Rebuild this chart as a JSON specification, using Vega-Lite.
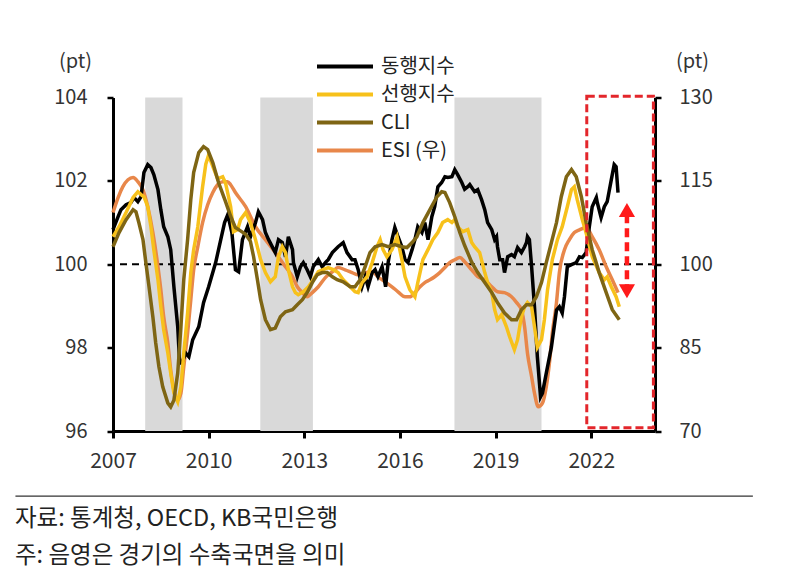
{
"$schema": "https://vega.github.io/schema/vega-lite/v6.json",
"width": 542, "height": 333.5,
"autosize": {"type": "none"},
"padding": {"left": 113, "top": 97.5, "right": 139, "bottom": 153},
"background": "white",
"config": {"view": {"stroke": null}, "font": "Noto Sans CJK KR",
 "axisX": {"labelFontSize": 21, "labelColor": "#333333", "labelPadding": 12, "labelFlush": false, "tickSize": 7, "tickWidth": 3, "tickColor": "#000000", "domainColor": "#000000", "domainWidth": 3, "grid": false}},
"title": {"text": ["자료: 통계청, OECD, KB국민은행", "주: 음영은 경기의 수축국면을 의미"], "orient": "bottom", "anchor": "start", "frame": "group", "fontSize": 23.5, "fontWeight": "normal", "lineHeight": 37, "color": "#222222", "dx": -98, "offset": 10, "font": "Noto Sans CJK KR"},
"datasets": {
"rec": [{"a": 2008.01, "b": 2009.18}, {"a": 2011.62, "b": 2013.27}, {"a": 2017.71, "b": 2020.44}],
"d": [
{"s":"동행지수","t":2007.0,"v":100.83},{"s":"동행지수","t":2007.16,"v":101.14},{"s":"동행지수","t":2007.25,"v":101.31},{"s":"동행지수","t":2007.41,"v":101.43},{"s":"동행지수","t":2007.56,"v":101.48},{"s":"동행지수","t":2007.66,"v":101.6},{"s":"동행지수","t":2007.78,"v":101.5},{"s":"동행지수","t":2007.88,"v":101.62},{"s":"동행지수","t":2007.97,"v":102.2},{"s":"동행지수","t":2008.09,"v":102.39},{"s":"동행지수","t":2008.19,"v":102.32},{"s":"동행지수","t":2008.28,"v":102.15},{"s":"동행지수","t":2008.41,"v":101.79},{"s":"동행지수","t":2008.5,"v":101.31},{"s":"동행지수","t":2008.59,"v":100.9},{"s":"동행지수","t":2008.72,"v":100.66},{"s":"동행지수","t":2008.81,"v":100.35},{"s":"동행지수","t":2008.91,"v":99.46},{"s":"동행지수","t":2009.03,"v":98.5},{"s":"동행지수","t":2009.09,"v":97.63},{"s":"동행지수","t":2009.16,"v":97.63},{"s":"동행지수","t":2009.28,"v":97.87},{"s":"동행지수","t":2009.38,"v":97.78},{"s":"동행지수","t":2009.5,"v":98.19},{"s":"동행지수","t":2009.69,"v":98.5},{"s":"동행지수","t":2009.84,"v":99.08},{"s":"동행지수","t":2010.0,"v":99.46},{"s":"동행지수","t":2010.22,"v":100.04},{"s":"동행지수","t":2010.38,"v":100.59},{"s":"동행지수","t":2010.5,"v":101.0},{"s":"동행지수","t":2010.6,"v":101.19},{"s":"동행지수","t":2010.73,"v":100.75},{"s":"동행지수","t":2010.84,"v":99.87},{"s":"동행지수","t":2010.94,"v":99.82},{"s":"동행지수","t":2011.06,"v":100.59},{"s":"동행지수","t":2011.22,"v":100.9},{"s":"동행지수","t":2011.31,"v":100.66},{"s":"동행지수","t":2011.47,"v":101.0},{"s":"동행지수","t":2011.56,"v":101.26},{"s":"동행지수","t":2011.69,"v":101.07},{"s":"동행지수","t":2011.78,"v":100.76},{"s":"동행지수","t":2011.88,"v":100.59},{"s":"동행지수","t":2012.09,"v":100.28},{"s":"동행지수","t":2012.19,"v":100.59},{"s":"동행지수","t":2012.31,"v":100.52},{"s":"동행지수","t":2012.41,"v":100.18},{"s":"동행지수","t":2012.5,"v":100.66},{"s":"동행지수","t":2012.63,"v":100.35},{"s":"동행지수","t":2012.66,"v":100.04},{"s":"동행지수","t":2012.78,"v":99.7},{"s":"동행지수","t":2012.88,"v":99.94},{"s":"동행지수","t":2012.97,"v":100.04},{"s":"동행지수","t":2013.09,"v":99.87},{"s":"동행지수","t":2013.19,"v":99.7},{"s":"동행지수","t":2013.28,"v":99.94},{"s":"동행지수","t":2013.44,"v":100.11},{"s":"동행지수","t":2013.56,"v":99.94},{"s":"동행지수","t":2013.66,"v":100.04},{"s":"동행지수","t":2013.75,"v":100.11},{"s":"동행지수","t":2013.88,"v":100.28},{"s":"동행지수","t":2014.06,"v":100.42},{"s":"동행지수","t":2014.22,"v":100.52},{"s":"동행지수","t":2014.34,"v":100.28},{"s":"동행지수","t":2014.5,"v":100.11},{"s":"동행지수","t":2014.59,"v":100.11},{"s":"동행지수","t":2014.69,"v":99.87},{"s":"동행지수","t":2014.81,"v":99.46},{"s":"동행지수","t":2014.91,"v":99.7},{"s":"동행지수","t":2015.0,"v":99.46},{"s":"동행지수","t":2015.13,"v":99.8},{"s":"동행지수","t":2015.22,"v":99.87},{"s":"동행지수","t":2015.31,"v":99.7},{"s":"동행지수","t":2015.44,"v":99.94},{"s":"동행지수","t":2015.55,"v":99.46},{"s":"동행지수","t":2015.63,"v":100.04},{"s":"동행지수","t":2015.75,"v":100.59},{"s":"동행지수","t":2015.84,"v":100.88},{"s":"동행지수","t":2015.94,"v":100.66},{"s":"동행지수","t":2016.06,"v":100.42},{"s":"동행지수","t":2016.16,"v":100.11},{"s":"동행지수","t":2016.25,"v":100.04},{"s":"동행지수","t":2016.38,"v":100.35},{"s":"동행지수","t":2016.47,"v":100.59},{"s":"동행지수","t":2016.56,"v":100.9},{"s":"동행지수","t":2016.69,"v":100.76},{"s":"동행지수","t":2016.78,"v":101.0},{"s":"동행지수","t":2016.88,"v":100.59},{"s":"동행지수","t":2017.0,"v":101.14},{"s":"동행지수","t":2017.09,"v":101.38},{"s":"동행지수","t":2017.19,"v":101.86},{"s":"동행지수","t":2017.31,"v":101.96},{"s":"동행지수","t":2017.41,"v":102.1},{"s":"동행지수","t":2017.5,"v":102.08},{"s":"동행지수","t":2017.63,"v":102.1},{"s":"동행지수","t":2017.72,"v":102.27},{"s":"동행지수","t":2017.81,"v":102.15},{"s":"동행지수","t":2017.94,"v":101.96},{"s":"동행지수","t":2018.03,"v":101.8},{"s":"동행지수","t":2018.13,"v":101.86},{"s":"동행지수","t":2018.19,"v":101.91},{"s":"동행지수","t":2018.34,"v":101.74},{"s":"동행지수","t":2018.44,"v":101.79},{"s":"동행지수","t":2018.56,"v":101.55},{"s":"동행지수","t":2018.66,"v":101.31},{"s":"동행지수","t":2018.75,"v":101.0},{"s":"동행지수","t":2018.88,"v":100.83},{"s":"동행지수","t":2018.97,"v":100.59},{"s":"동행지수","t":2019.03,"v":100.66},{"s":"동행지수","t":2019.06,"v":100.42},{"s":"동행지수","t":2019.13,"v":100.11},{"s":"동행지수","t":2019.22,"v":100.11},{"s":"동행지수","t":2019.28,"v":99.8},{"s":"동행지수","t":2019.38,"v":100.18},{"s":"동행지수","t":2019.5,"v":100.23},{"s":"동행지수","t":2019.59,"v":100.18},{"s":"동행지수","t":2019.69,"v":100.4},{"s":"동행지수","t":2019.81,"v":100.28},{"s":"동행지수","t":2019.91,"v":100.42},{"s":"동행지수","t":2019.97,"v":100.52},{"s":"동행지수","t":2020.0,"v":100.66},{"s":"동행지수","t":2020.06,"v":100.59},{"s":"동행지수","t":2020.13,"v":99.94},{"s":"동행지수","t":2020.22,"v":98.98},{"s":"동행지수","t":2020.31,"v":97.78},{"s":"동행지수","t":2020.41,"v":96.82},{"s":"동행지수","t":2020.47,"v":96.91},{"s":"동행지수","t":2020.59,"v":97.39},{"s":"동행지수","t":2020.75,"v":98.01},{"s":"동행지수","t":2020.91,"v":98.9},{"s":"동행지수","t":2021.0,"v":98.98},{"s":"동행지수","t":2021.09,"v":98.83},{"s":"동행지수","t":2021.16,"v":99.22},{"s":"동행지수","t":2021.25,"v":99.94},{"s":"동행지수","t":2021.38,"v":99.99},{"s":"동행지수","t":2021.53,"v":100.04},{"s":"동행지수","t":2021.63,"v":100.18},{"s":"동행지수","t":2021.72,"v":100.16},{"s":"동행지수","t":2021.84,"v":100.28},{"s":"동행지수","t":2021.94,"v":100.9},{"s":"동행지수","t":2022.03,"v":101.38},{"s":"동행지수","t":2022.16,"v":101.6},{"s":"동행지수","t":2022.19,"v":101.48},{"s":"동행지수","t":2022.31,"v":101.12},{"s":"동행지수","t":2022.41,"v":101.38},{"s":"동행지수","t":2022.5,"v":101.5},{"s":"동행지수","t":2022.63,"v":102.03},{"s":"동행지수","t":2022.72,"v":102.39},{"s":"동행지수","t":2022.78,"v":102.34},{"s":"동행지수","t":2022.84,"v":101.72},
{"s":"선행지수","t":2007.0,"v":100.66},{"s":"선행지수","t":2007.19,"v":100.9},{"s":"선행지수","t":2007.41,"v":101.24},{"s":"선행지수","t":2007.63,"v":101.6},{"s":"선행지수","t":2007.78,"v":101.74},{"s":"선행지수","t":2007.88,"v":101.67},{"s":"선행지수","t":2007.97,"v":101.62},{"s":"선행지수","t":2008.09,"v":101.38},{"s":"선행지수","t":2008.19,"v":100.9},{"s":"선행지수","t":2008.28,"v":100.35},{"s":"선행지수","t":2008.41,"v":99.63},{"s":"선행지수","t":2008.5,"v":98.98},{"s":"선행지수","t":2008.59,"v":98.43},{"s":"선행지수","t":2008.72,"v":97.87},{"s":"선행지수","t":2008.81,"v":97.39},{"s":"선행지수","t":2008.91,"v":96.91},{"s":"선행지수","t":2009.03,"v":96.7},{"s":"선행지수","t":2009.13,"v":97.06},{"s":"선행지수","t":2009.22,"v":97.87},{"s":"선행지수","t":2009.34,"v":98.83},{"s":"선행지수","t":2009.44,"v":99.8},{"s":"선행지수","t":2009.53,"v":100.35},{"s":"선행지수","t":2009.66,"v":100.9},{"s":"선행지수","t":2009.81,"v":101.86},{"s":"선행지수","t":2009.91,"v":102.4},{"s":"선행지수","t":2010.0,"v":102.62},{"s":"선행지수","t":2010.13,"v":102.35},{"s":"선행지수","t":2010.28,"v":102.05},{"s":"선행지수","t":2010.44,"v":102.1},{"s":"선행지수","t":2010.53,"v":101.95},{"s":"선행지수","t":2010.69,"v":101.38},{"s":"선행지수","t":2010.78,"v":100.78},{"s":"선행지수","t":2010.91,"v":100.83},{"s":"선행지수","t":2011.0,"v":101.07},{"s":"선행지수","t":2011.16,"v":101.24},{"s":"선행지수","t":2011.31,"v":101.0},{"s":"선행지수","t":2011.47,"v":100.59},{"s":"선행지수","t":2011.63,"v":100.11},{"s":"선행지수","t":2011.78,"v":99.8},{"s":"선행지수","t":2011.94,"v":99.58},{"s":"선행지수","t":2012.09,"v":99.7},{"s":"선행지수","t":2012.19,"v":100.18},{"s":"선행지수","t":2012.31,"v":100.42},{"s":"선행지수","t":2012.41,"v":100.28},{"s":"선행지수","t":2012.5,"v":99.87},{"s":"선행지수","t":2012.63,"v":99.46},{"s":"선행지수","t":2012.72,"v":99.32},{"s":"선행지수","t":2012.81,"v":99.27},{"s":"선행지수","t":2012.97,"v":99.34},{"s":"선행지수","t":2013.13,"v":99.46},{"s":"선행지수","t":2013.28,"v":99.63},{"s":"선행지수","t":2013.44,"v":99.82},{"s":"선행지수","t":2013.59,"v":99.87},{"s":"선행지수","t":2013.75,"v":99.92},{"s":"선행지수","t":2013.91,"v":99.87},{"s":"선행지수","t":2014.06,"v":99.8},{"s":"선행지수","t":2014.22,"v":99.63},{"s":"선행지수","t":2014.44,"v":99.46},{"s":"선행지수","t":2014.59,"v":99.34},{"s":"선행지수","t":2014.69,"v":99.32},{"s":"선행지수","t":2014.81,"v":99.56},{"s":"선행지수","t":2014.97,"v":99.7},{"s":"선행지수","t":2015.13,"v":100.04},{"s":"선행지수","t":2015.28,"v":100.42},{"s":"선행지수","t":2015.38,"v":100.59},{"s":"선행지수","t":2015.47,"v":100.35},{"s":"선행지수","t":2015.59,"v":100.18},{"s":"선행지수","t":2015.75,"v":100.35},{"s":"선행지수","t":2015.91,"v":100.66},{"s":"선행지수","t":2016.06,"v":100.11},{"s":"선행지수","t":2016.16,"v":99.7},{"s":"선행지수","t":2016.31,"v":99.39},{"s":"선행지수","t":2016.47,"v":99.22},{"s":"선행지수","t":2016.56,"v":99.56},{"s":"선행지수","t":2016.72,"v":100.11},{"s":"선행지수","t":2016.88,"v":100.35},{"s":"선행지수","t":2017.03,"v":100.59},{"s":"선행지수","t":2017.19,"v":100.76},{"s":"선행지수","t":2017.34,"v":101.0},{"s":"선행지수","t":2017.5,"v":101.07},{"s":"선행지수","t":2017.63,"v":101.0},{"s":"선행지수","t":2017.72,"v":101.07},{"s":"선행지수","t":2017.81,"v":100.9},{"s":"선행지수","t":2017.97,"v":100.78},{"s":"선행지수","t":2018.13,"v":100.83},{"s":"선행지수","t":2018.25,"v":100.52},{"s":"선행지수","t":2018.34,"v":100.42},{"s":"선행지수","t":2018.5,"v":100.28},{"s":"선행지수","t":2018.66,"v":99.8},{"s":"선행지수","t":2018.75,"v":99.56},{"s":"선행지수","t":2018.88,"v":99.32},{"s":"선행지수","t":2018.97,"v":98.91},{"s":"선행지수","t":2019.06,"v":98.67},{"s":"선행지수","t":2019.19,"v":98.79},{"s":"선행지수","t":2019.34,"v":98.5},{"s":"선행지수","t":2019.44,"v":98.26},{"s":"선행지수","t":2019.59,"v":97.95},{"s":"선행지수","t":2019.69,"v":98.19},{"s":"선행지수","t":2019.81,"v":98.74},{"s":"선행지수","t":2019.91,"v":98.98},{"s":"선행지수","t":2020.0,"v":99.08},{"s":"선행지수","t":2020.13,"v":98.98},{"s":"선행지수","t":2020.22,"v":98.5},{"s":"선행지수","t":2020.31,"v":98.01},{"s":"선행지수","t":2020.44,"v":98.19},{"s":"선행지수","t":2020.53,"v":98.67},{"s":"선행지수","t":2020.63,"v":99.39},{"s":"선행지수","t":2020.78,"v":100.11},{"s":"선행지수","t":2020.94,"v":100.59},{"s":"선행지수","t":2021.09,"v":100.9},{"s":"선행지수","t":2021.25,"v":101.38},{"s":"선행지수","t":2021.38,"v":101.79},{"s":"선행지수","t":2021.47,"v":101.86},{"s":"선행지수","t":2021.56,"v":101.55},{"s":"선행지수","t":2021.72,"v":101.07},{"s":"선행지수","t":2021.84,"v":100.75},{"s":"선행지수","t":2022.03,"v":100.18},{"s":"선행지수","t":2022.25,"v":99.8},{"s":"선행지수","t":2022.41,"v":99.63},{"s":"선행지수","t":2022.5,"v":99.7},{"s":"선행지수","t":2022.63,"v":99.46},{"s":"선행지수","t":2022.78,"v":99.22},{"s":"선행지수","t":2022.88,"v":98.98},
{"s":"CLI","t":2007.0,"v":100.42},{"s":"CLI","t":2007.19,"v":100.76},{"s":"CLI","t":2007.41,"v":101.07},{"s":"CLI","t":2007.63,"v":101.31},{"s":"CLI","t":2007.72,"v":101.26},{"s":"CLI","t":2007.81,"v":101.0},{"s":"CLI","t":2007.94,"v":100.59},{"s":"CLI","t":2008.03,"v":100.04},{"s":"CLI","t":2008.13,"v":99.46},{"s":"CLI","t":2008.25,"v":98.74},{"s":"CLI","t":2008.34,"v":98.11},{"s":"CLI","t":2008.44,"v":97.54},{"s":"CLI","t":2008.56,"v":97.06},{"s":"CLI","t":2008.72,"v":96.67},{"s":"CLI","t":2008.81,"v":96.58},{"s":"CLI","t":2008.91,"v":96.74},{"s":"CLI","t":2009.03,"v":97.39},{"s":"CLI","t":2009.13,"v":98.5},{"s":"CLI","t":2009.22,"v":99.63},{"s":"CLI","t":2009.34,"v":100.59},{"s":"CLI","t":2009.44,"v":101.55},{"s":"CLI","t":2009.53,"v":102.2},{"s":"CLI","t":2009.69,"v":102.68},{"s":"CLI","t":2009.84,"v":102.82},{"s":"CLI","t":2009.97,"v":102.75},{"s":"CLI","t":2010.13,"v":102.44},{"s":"CLI","t":2010.31,"v":101.96},{"s":"CLI","t":2010.53,"v":101.5},{"s":"CLI","t":2010.69,"v":101.15},{"s":"CLI","t":2010.84,"v":100.88},{"s":"CLI","t":2011.0,"v":100.8},{"s":"CLI","t":2011.16,"v":100.72},{"s":"CLI","t":2011.31,"v":100.55},{"s":"CLI","t":2011.41,"v":100.18},{"s":"CLI","t":2011.53,"v":99.63},{"s":"CLI","t":2011.63,"v":99.15},{"s":"CLI","t":2011.78,"v":98.67},{"s":"CLI","t":2011.94,"v":98.43},{"s":"CLI","t":2012.09,"v":98.47},{"s":"CLI","t":2012.25,"v":98.74},{"s":"CLI","t":2012.41,"v":98.86},{"s":"CLI","t":2012.63,"v":98.91},{"s":"CLI","t":2012.78,"v":99.03},{"s":"CLI","t":2012.94,"v":99.15},{"s":"CLI","t":2013.09,"v":99.32},{"s":"CLI","t":2013.25,"v":99.56},{"s":"CLI","t":2013.41,"v":99.75},{"s":"CLI","t":2013.56,"v":99.8},{"s":"CLI","t":2013.72,"v":99.8},{"s":"CLI","t":2013.88,"v":99.7},{"s":"CLI","t":2014.03,"v":99.63},{"s":"CLI","t":2014.22,"v":99.58},{"s":"CLI","t":2014.44,"v":99.46},{"s":"CLI","t":2014.59,"v":99.46},{"s":"CLI","t":2014.75,"v":99.63},{"s":"CLI","t":2014.91,"v":99.94},{"s":"CLI","t":2015.06,"v":100.28},{"s":"CLI","t":2015.22,"v":100.42},{"s":"CLI","t":2015.44,"v":100.47},{"s":"CLI","t":2015.63,"v":100.42},{"s":"CLI","t":2015.84,"v":100.47},{"s":"CLI","t":2016.06,"v":100.42},{"s":"CLI","t":2016.22,"v":100.4},{"s":"CLI","t":2016.38,"v":100.52},{"s":"CLI","t":2016.53,"v":100.66},{"s":"CLI","t":2016.72,"v":101.0},{"s":"CLI","t":2016.94,"v":101.31},{"s":"CLI","t":2017.16,"v":101.62},{"s":"CLI","t":2017.31,"v":101.74},{"s":"CLI","t":2017.41,"v":101.72},{"s":"CLI","t":2017.56,"v":101.48},{"s":"CLI","t":2017.72,"v":101.14},{"s":"CLI","t":2017.88,"v":100.76},{"s":"CLI","t":2018.03,"v":100.45},{"s":"CLI","t":2018.25,"v":100.05},{"s":"CLI","t":2018.44,"v":99.8},{"s":"CLI","t":2018.66,"v":99.56},{"s":"CLI","t":2018.88,"v":99.32},{"s":"CLI","t":2019.06,"v":99.08},{"s":"CLI","t":2019.28,"v":98.83},{"s":"CLI","t":2019.5,"v":98.67},{"s":"CLI","t":2019.66,"v":98.67},{"s":"CLI","t":2019.81,"v":98.91},{"s":"CLI","t":2019.97,"v":99.03},{"s":"CLI","t":2020.13,"v":99.03},{"s":"CLI","t":2020.28,"v":99.22},{"s":"CLI","t":2020.44,"v":99.56},{"s":"CLI","t":2020.59,"v":100.04},{"s":"CLI","t":2020.75,"v":100.52},{"s":"CLI","t":2020.91,"v":101.0},{"s":"CLI","t":2021.06,"v":101.62},{"s":"CLI","t":2021.22,"v":102.1},{"s":"CLI","t":2021.38,"v":102.27},{"s":"CLI","t":2021.53,"v":102.1},{"s":"CLI","t":2021.69,"v":101.62},{"s":"CLI","t":2021.84,"v":101.0},{"s":"CLI","t":2022.03,"v":100.35},{"s":"CLI","t":2022.25,"v":99.8},{"s":"CLI","t":2022.47,"v":99.32},{"s":"CLI","t":2022.66,"v":98.91},{"s":"CLI","t":2022.88,"v":98.67},
{"s":"ESI (우)","t":2007.0,"v":109.3},{"s":"ESI (우)","t":2007.16,"v":112.0},{"s":"ESI (우)","t":2007.31,"v":113.95},{"s":"ESI (우)","t":2007.47,"v":115.2},{"s":"ESI (우)","t":2007.63,"v":115.6},{"s":"ESI (우)","t":2007.78,"v":114.85},{"s":"ESI (우)","t":2007.94,"v":113.4},{"s":"ESI (우)","t":2008.09,"v":110.35},{"s":"ESI (우)","t":2008.25,"v":105.7},{"s":"ESI (우)","t":2008.41,"v":99.55},{"s":"ESI (우)","t":2008.5,"v":95.4},{"s":"ESI (우)","t":2008.59,"v":90.55},{"s":"ESI (우)","t":2008.72,"v":85.8},{"s":"ESI (우)","t":2008.81,"v":81.0},{"s":"ESI (우)","t":2008.91,"v":77.4},{"s":"ESI (우)","t":2009.03,"v":75.55},{"s":"ESI (우)","t":2009.13,"v":76.8},{"s":"ESI (우)","t":2009.22,"v":81.55},{"s":"ESI (우)","t":2009.34,"v":87.6},{"s":"ESI (우)","t":2009.44,"v":93.6},{"s":"ESI (우)","t":2009.53,"v":99.0},{"s":"ESI (우)","t":2009.66,"v":103.15},{"s":"ESI (우)","t":2009.81,"v":107.5},{"s":"ESI (우)","t":2009.97,"v":110.7},{"s":"ESI (우)","t":2010.13,"v":112.9},{"s":"ESI (우)","t":2010.28,"v":114.3},{"s":"ESI (우)","t":2010.44,"v":114.85},{"s":"ESI (우)","t":2010.59,"v":114.85},{"s":"ESI (우)","t":2010.69,"v":114.3},{"s":"ESI (우)","t":2010.84,"v":112.9},{"s":"ESI (우)","t":2011.16,"v":110.35},{"s":"ESI (우)","t":2011.47,"v":106.75},{"s":"ESI (우)","t":2011.78,"v":104.4},{"s":"ESI (우)","t":2012.09,"v":102.1},{"s":"ESI (우)","t":2012.41,"v":99.55},{"s":"ESI (우)","t":2012.63,"v":97.75},{"s":"ESI (우)","t":2012.78,"v":95.95},{"s":"ESI (우)","t":2012.94,"v":94.9},{"s":"ESI (우)","t":2013.09,"v":94.15},{"s":"ESI (우)","t":2013.25,"v":94.9},{"s":"ESI (우)","t":2013.44,"v":95.95},{"s":"ESI (우)","t":2013.66,"v":97.6},{"s":"ESI (우)","t":2013.88,"v":98.65},{"s":"ESI (우)","t":2014.06,"v":99.4},{"s":"ESI (우)","t":2014.28,"v":99.0},{"s":"ESI (우)","t":2014.5,"v":98.5},{"s":"ESI (우)","t":2014.69,"v":98.1},{"s":"ESI (우)","t":2014.91,"v":98.5},{"s":"ESI (우)","t":2015.13,"v":98.65},{"s":"ESI (우)","t":2015.31,"v":97.75},{"s":"ESI (우)","t":2015.53,"v":96.85},{"s":"ESI (우)","t":2015.75,"v":95.95},{"s":"ESI (우)","t":2015.94,"v":95.05},{"s":"ESI (우)","t":2016.16,"v":94.15},{"s":"ESI (우)","t":2016.31,"v":94.15},{"s":"ESI (우)","t":2016.47,"v":94.9},{"s":"ESI (우)","t":2016.63,"v":95.95},{"s":"ESI (우)","t":2016.78,"v":96.7},{"s":"ESI (우)","t":2016.94,"v":97.2},{"s":"ESI (우)","t":2017.09,"v":97.75},{"s":"ESI (우)","t":2017.25,"v":98.5},{"s":"ESI (우)","t":2017.41,"v":99.4},{"s":"ESI (우)","t":2017.56,"v":100.3},{"s":"ESI (우)","t":2017.72,"v":100.8},{"s":"ESI (우)","t":2017.88,"v":101.2},{"s":"ESI (우)","t":2018.03,"v":100.45},{"s":"ESI (우)","t":2018.25,"v":99.0},{"s":"ESI (우)","t":2018.44,"v":97.75},{"s":"ESI (우)","t":2018.66,"v":97.2},{"s":"ESI (우)","t":2018.88,"v":95.95},{"s":"ESI (우)","t":2019.06,"v":95.05},{"s":"ESI (우)","t":2019.28,"v":94.9},{"s":"ESI (우)","t":2019.5,"v":94.15},{"s":"ESI (우)","t":2019.66,"v":93.1},{"s":"ESI (우)","t":2019.81,"v":91.8},{"s":"ESI (우)","t":2019.91,"v":88.75},{"s":"ESI (우)","t":2020.0,"v":84.0},{"s":"ESI (우)","t":2020.13,"v":79.75},{"s":"ESI (우)","t":2020.22,"v":76.8},{"s":"ESI (우)","t":2020.34,"v":74.35},{"s":"ESI (우)","t":2020.47,"v":75.0},{"s":"ESI (우)","t":2020.59,"v":77.95},{"s":"ESI (우)","t":2020.69,"v":82.3},{"s":"ESI (우)","t":2020.78,"v":87.6},{"s":"ESI (우)","t":2020.91,"v":93.1},{"s":"ESI (우)","t":2021.0,"v":98.5},{"s":"ESI (우)","t":2021.16,"v":102.6},{"s":"ESI (우)","t":2021.31,"v":104.4},{"s":"ESI (우)","t":2021.47,"v":105.7},{"s":"ESI (우)","t":2021.63,"v":106.2},{"s":"ESI (우)","t":2021.84,"v":106.6},{"s":"ESI (우)","t":2022.03,"v":104.95},{"s":"ESI (우)","t":2022.25,"v":102.6},{"s":"ESI (우)","t":2022.47,"v":99.55},{"s":"ESI (우)","t":2022.66,"v":97.2},{"s":"ESI (우)","t":2022.84,"v":94.9}
]},
"resolve": {"scale": {"y": "independent"}},
"layer": [
{"data": {"name": "rec"}, "mark": {"type": "rect", "color": "#D9D9D9"},
 "encoding": {"x": {"field": "a", "type": "quantitative", "scale": {"domain": [2007, 2024], "nice": false, "zero": false}, "axis": {"values": [2007, 2010, 2013, 2016, 2019, 2022], "format": "d", "title": null}}, "x2": {"field": "b"}}},
{"data": {"values": [{}]}, "mark": {"type": "rule", "strokeDash": [7, 5], "strokeWidth": 2, "color": "#000000"},
 "encoding": {"y": {"datum": 100, "type": "quantitative", "scale": {"domain": [96, 104], "nice": false, "zero": false}, "axis": null}}},
{"data": {"name": "d"}, "transform": [{"filter": "datum.s === 'ESI (우)'"}],
 "mark": {"type": "line", "strokeWidth": 3.5, "interpolate": "monotone"},
 "encoding": {
  "x": {"field": "t", "type": "quantitative", "scale": {"domain": [2007, 2024], "nice": false, "zero": false}, "axis": {"values": [2007, 2010, 2013, 2016, 2019, 2022], "format": "d", "title": null}},
  "y": {"field": "v", "type": "quantitative", "scale": {"domain": [70, 130], "nice": false, "zero": false},
        "axis": {"orient": "right", "values": [70, 85, 100, 115, 130], "title": "(pt)", "titleAngle": 0, "titleX": 37, "titleY": -36, "titleAlign": "center", "titleBaseline": "middle", "titleFontSize": 20, "titleFontWeight": "normal", "titleColor": "#333333", "labelFontSize": 20, "labelColor": "#333333", "labelPadding": 18, "tickSize": 6, "tickWidth": 2.5, "tickColor": "#000000", "domainColor": "#000000", "domainWidth": 3, "grid": false}},
  "color": {"field": "s", "type": "nominal", "scale": {"domain": ["동행지수", "선행지수", "CLI", "ESI (우)"], "range": ["#000000", "#F7C11B", "#7E6514", "#E8874A"]},
        "legend": {"orient": "none", "legendX": 220, "legendY": -43, "direction": "vertical", "title": null, "symbolType": "M-2.8,0H2.8", "symbolStrokeWidth": 4, "symbolSize": 400, "labelFontSize": 20, "labelColor": "#222222", "rowPadding": 6, "labelOffset": 24, "padding": 0}}}},
{"data": {"name": "d"}, "transform": [{"filter": "datum.s !== 'ESI (우)'"}],
 "mark": {"type": "line", "strokeWidth": 3.5},
 "encoding": {
  "x": {"field": "t", "type": "quantitative", "scale": {"domain": [2007, 2024], "nice": false, "zero": false}, "axis": {"values": [2007, 2010, 2013, 2016, 2019, 2022], "format": "d", "title": null}},
  "y": {"field": "v", "type": "quantitative", "scale": {"domain": [96, 104], "nice": false, "zero": false},
        "axis": {"orient": "left", "values": [96, 98, 100, 102, 104], "title": "(pt)", "titleAngle": 0, "titleX": -38, "titleY": -36, "titleAlign": "center", "titleBaseline": "middle", "titleFontSize": 20, "titleFontWeight": "normal", "titleColor": "#333333", "labelFontSize": 20, "labelColor": "#333333", "labelPadding": 20, "tickSize": 6, "tickWidth": 2.5, "tickColor": "#000000", "domainColor": "#000000", "domainWidth": 3, "grid": false}},
  "color": {"field": "s", "type": "nominal", "scale": {"domain": ["동행지수", "선행지수", "CLI", "ESI (우)"], "range": ["#000000", "#F7C11B", "#7E6514", "#E8874A"]},
        "legend": {"orient": "none", "legendX": 220, "legendY": -43, "direction": "vertical", "title": null, "symbolType": "M-2.8,0H2.8", "symbolStrokeWidth": 4, "symbolSize": 400, "labelFontSize": 20, "labelColor": "#222222", "rowPadding": 6, "labelOffset": 24, "padding": 0}}}},
{"data": {"values": [{}]}, "mark": {"type": "rect", "filled": false, "color": "#E3262B", "strokeWidth": 3, "strokeDash": [8, 4]},
 "encoding": {"x": {"datum": 2021.86, "type": "quantitative", "scale": {"domain": [2007, 2024], "nice": false, "zero": false}, "axis": {"values": [2007, 2010, 2013, 2016, 2019, 2022], "format": "d", "title": null}}, "x2": {"datum": 2023.95},
  "y": {"datum": 104.03, "type": "quantitative", "scale": {"domain": [96, 104], "nice": false, "zero": false}, "axis": null}, "y2": {"datum": 96.08}}},
{"data": {"values": [{}]}, "mark": {"type": "rule", "color": "#FF1A1A", "strokeWidth": 4.5, "strokeDash": [9, 5]},
 "encoding": {"x": {"datum": 2023.12, "type": "quantitative", "scale": {"domain": [2007, 2024], "nice": false, "zero": false}, "axis": {"values": [2007, 2010, 2013, 2016, 2019, 2022], "format": "d", "title": null}},
  "y": {"datum": 101.2, "type": "quantitative", "scale": {"domain": [96, 104], "nice": false, "zero": false}, "axis": null}, "y2": {"datum": 99.45}}},
{"data": {"values": [{}]}, "mark": {"type": "point", "shape": "triangle-up", "filled": true, "color": "#FF1A1A", "size": 260, "opacity": 1},
 "encoding": {"x": {"datum": 2023.12, "type": "quantitative", "scale": {"domain": [2007, 2024], "nice": false, "zero": false}, "axis": {"values": [2007, 2010, 2013, 2016, 2019, 2022], "format": "d", "title": null}},
  "y": {"datum": 101.3, "type": "quantitative", "scale": {"domain": [96, 104], "nice": false, "zero": false}, "axis": null}}},
{"data": {"values": [{}]}, "mark": {"type": "point", "shape": "triangle-down", "filled": true, "color": "#FF1A1A", "size": 260, "opacity": 1},
 "encoding": {"x": {"datum": 2023.12, "type": "quantitative", "scale": {"domain": [2007, 2024], "nice": false, "zero": false}, "axis": {"values": [2007, 2010, 2013, 2016, 2019, 2022], "format": "d", "title": null}},
  "y": {"datum": 99.35, "type": "quantitative", "scale": {"domain": [96, 104], "nice": false, "zero": false}, "axis": null}}},
{"data": {"values": [{}]}, "mark": {"type": "rule", "color": "#333333", "strokeWidth": 1.3},
 "encoding": {"x": {"datum": 2003.94, "type": "quantitative", "scale": {"domain": [2007, 2024], "nice": false, "zero": false}, "axis": {"values": [2007, 2010, 2013, 2016, 2019, 2022], "format": "d", "title": null}}, "x2": {"datum": 2027.07},
  "y": {"datum": 94.44, "type": "quantitative", "scale": {"domain": [96, 104], "nice": false, "zero": false}, "axis": null}}}
]
}
